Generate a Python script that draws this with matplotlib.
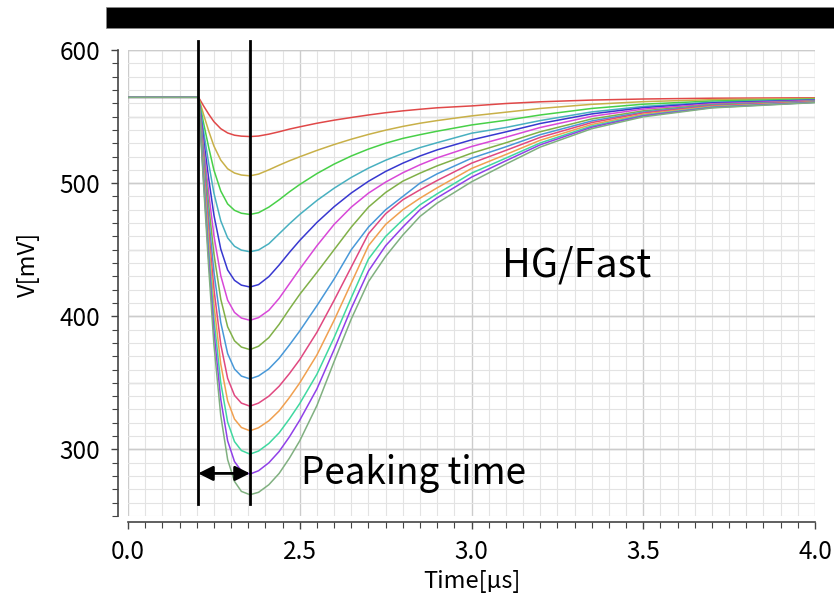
import numpy as np
import matplotlib
matplotlib.use("Agg")
import matplotlib.pyplot as plt
from matplotlib.ticker import MultipleLocator, FixedLocator

plt.rcParams['font.family'] = ['Noto Sans CJK JP', 'DejaVu Sans']

# time axis [us]
t = [2.0, 2.205, 2.21, 2.22, 2.235, 2.25, 2.27, 2.29, 2.31, 2.33,
     2.355, 2.38, 2.41, 2.44, 2.47, 2.5, 2.55, 2.6, 2.65, 2.7, 2.75, 2.8, 2.85, 2.9, 3.0,
     3.1, 3.2, 3.35, 3.5, 3.7, 4.0]

# output voltage [mV], one list per input level
v_red = [564.5, 564.5, 562.4, 558.0, 551.8, 546.2, 540.9, 537.7, 536.0, 535.3,
         535.0, 535.4, 536.8, 538.6, 540.6, 542.3, 545.0, 547.3, 549.3, 551.2, 552.9, 554.3, 555.5, 556.6, 558.0,
         559.8, 561.1, 562.4, 563.2, 563.8, 564.1]
v_olive = [564.5, 564.5, 560.4, 551.5, 539.1, 527.9, 517.3, 510.8, 507.6, 506.1,
           505.5, 506.8, 510.0, 513.5, 516.8, 519.8, 524.6, 529.0, 533.0, 536.6, 539.8, 542.6, 545.0, 547.0, 550.5,
           553.3, 556.1, 559.2, 561.2, 562.7, 563.6]
v_green = [564.5, 564.5, 558.3, 545.1, 526.7, 509.9, 494.1, 484.4, 479.6, 477.4,
           476.5, 477.8, 482.0, 487.5, 493.5, 499.0, 507.2, 514.3, 520.4, 525.6, 530.0, 533.6, 536.4, 539.0, 543.7,
           547.2, 551.2, 556.1, 559.3, 561.7, 563.1]
v_teal = [564.5, 564.5, 556.4, 539.0, 514.6, 492.6, 471.7, 458.9, 452.6, 449.7,
          448.5, 449.8, 454.5, 462.0, 469.5, 476.5, 487.0, 496.2, 504.3, 511.3, 517.2, 522.3, 526.7, 530.4, 537.5,
          541.8, 547.0, 553.5, 557.6, 560.8, 562.6]
v_blue = [564.5, 564.5, 554.5, 533.1, 503.2, 476.1, 450.5, 434.8, 427.0, 423.4,
          422.0, 423.8, 429.8, 438.5, 448.0, 457.0, 470.5, 482.3, 492.6, 501.4, 508.8, 515.0, 520.4, 525.0, 532.5,
          538.5, 544.8, 552.0, 556.7, 560.3, 562.4]
v_magenta = [564.5, 564.5, 552.8, 527.6, 492.5, 460.6, 430.5, 412.1, 402.9, 398.7,
             397.0, 399.0, 404.5, 413.5, 424.5, 435.5, 453.0, 469.0, 482.0, 492.5, 500.8, 507.8, 513.8, 519.0, 527.5,
             534.5, 541.8, 550.2, 555.6, 559.6, 562.1]
v_olivegreen = [564.5, 564.5, 551.2, 522.8, 483.0, 447.0, 412.9, 392.1, 381.6, 376.9,
                375.0, 377.5, 384.0, 394.0, 405.5, 416.5, 433.0, 450.0, 467.0, 482.0, 493.0, 501.5, 507.5, 513.0, 522.5,
                530.3, 538.6, 548.2, 554.3, 559.0, 561.7]
v_steel = [564.5, 564.5, 549.7, 518.0, 473.6, 433.4, 395.3, 372.0, 360.4, 355.1,
           353.0, 355.2, 360.5, 368.5, 378.5, 389.0, 408.0, 428.0, 450.0, 467.0, 480.0, 490.0, 500.0, 507.0, 518.7,
           527.3, 536.4, 546.7, 553.4, 558.5, 561.5]
v_crimson = [564.5, 564.5, 548.3, 513.5, 464.7, 420.7, 378.9, 353.4, 340.6, 334.8,
             332.5, 334.8, 340.0, 347.5, 357.0, 367.5, 388.0, 412.0, 437.0, 462.0, 477.0, 487.5, 495.0, 502.0, 515.0,
             524.6, 534.4, 545.5, 552.7, 558.1, 561.3]
v_orange = [564.5, 564.5, 547.0, 509.4, 456.8, 409.2, 364.1, 336.5, 322.8, 316.5,
            314.0, 316.3, 321.5, 329.0, 339.0, 350.0, 371.0, 397.0, 425.0, 453.0, 469.0, 480.0, 488.7, 496.5, 511.0,
            521.5, 532.2, 544.1, 551.8, 557.6, 561.0]
v_tealgreen = [564.5, 564.5, 545.7, 505.5, 449.3, 398.3, 350.1, 320.6, 305.9, 299.2,
               296.5, 298.8, 304.5, 312.5, 323.0, 334.5, 356.5, 384.0, 414.0, 443.0, 460.0, 472.5, 483.7, 492.0, 507.5,
               518.8, 530.2, 542.9, 551.0, 557.2, 560.8]
v_purple = [564.5, 564.5, 544.7, 502.1, 442.6, 388.7, 337.7, 306.5, 290.9, 283.8,
            281.5, 284.0, 290.0, 298.5, 309.5, 322.0, 345.5, 375.0, 406.0, 434.0, 453.0, 467.0, 480.0, 489.0, 504.5,
            516.8, 528.8, 542.0, 550.5, 556.8, 560.7]
v_graygreen = [564.5, 564.5, 543.6, 498.7, 435.9, 379.1, 325.3, 292.4, 276.0, 268.5,
               266.0, 267.8, 273.5, 282.0, 293.5, 306.5, 333.0, 366.0, 398.0, 426.0, 445.0, 461.0, 475.0, 485.0, 501.0,
               514.3, 527.1, 540.9, 549.8, 556.5, 560.5]

curves = [v_red, v_olive, v_green, v_teal, v_blue, v_magenta, v_olivegreen,
          v_steel, v_crimson, v_orange, v_tealgreen, v_purple, v_graygreen]
colors = ['#e04848', '#c8b048', '#48d048', '#48b0c0', '#3838d0', '#d848d8', '#80b048',
          '#4898d8', '#e04880', '#f0a050', '#40d8a0', '#9040e8', '#80b080']

x_ticks = [2.0, 2.5, 3.0, 3.5, 4.0]
x_ticklabels = ['0.0', '2.5', '3.0', '3.5', '4.0']
y_ticks = [300, 400, 500, 600]

t_start = 2.204
t_peak = 2.355

fig = plt.figure(figsize=(8.34, 5.96), dpi=100)
ax = fig.add_axes([0.1535, 0.1342, 0.8237, 0.7819])

for v, c in zip(curves, colors):
    ax.plot(t, v, color=c, lw=1.1, solid_joinstyle='round')

ax.set_xlim(2.0, 4.0)
ax.set_ylim(250, 600)

ax.xaxis.set_major_locator(FixedLocator(x_ticks))
ax.set_xticklabels(x_ticklabels)
ax.xaxis.set_minor_locator(MultipleLocator(0.05))
ax.yaxis.set_major_locator(FixedLocator(y_ticks))
ax.yaxis.set_minor_locator(MultipleLocator(10))

ax.grid(which='minor', color='#e3e3e3', lw=0.8)
ax.grid(which='major', color='#cccccc', lw=1.0)
# darker lines every 50 mV
for yv in [300, 350, 400, 450, 500, 550, 600]:
    ax.axhline(yv, color='#cccccc', lw=1.0, zorder=0.5)
ax.set_axisbelow(True)

for s in ['top', 'right']:
    ax.spines[s].set_visible(False)
ax.spines['left'].set_position(('outward', 7))
ax.spines['bottom'].set_position(('outward', 4.5))
for s in ['left', 'bottom']:
    ax.spines[s].set_color('#444444')
    ax.spines[s].set_linewidth(1.2)

ax.tick_params(which='major', length=5, width=1.0, color='#444444', labelsize=17.5, pad=8)
ax.tick_params(which='minor', length=4, width=0.8, color='#444444')
ax.tick_params(axis='x', which='major', pad=7)

ax.set_xlabel('Time[µs]', fontsize=17)
ax.set_ylabel('V[mV]', fontsize=17)
ax.xaxis.set_label_coords(0.5, -0.115)
ax.yaxis.set_label_coords(-0.128, 0.54)

# peaking time markers
for xv in [t_start, t_peak]:
    ax.plot([xv, xv], [259, 607], color='black', lw=2.0, clip_on=False, zorder=5)
ax.annotate('', xy=(t_start, 282), xytext=(t_peak, 282),
            arrowprops=dict(arrowstyle='<|-|>', color='black', lw=2.0,
                            mutation_scale=22, shrinkA=0, shrinkB=0), zorder=6)

ax.text(2.504, 273.7, 'Peaking time', fontsize=26.5, va='baseline', ha='left')
ax.text(3.089, 429.7, 'HG/Fast', fontsize=28.5, va='baseline', ha='left')

# black bar at the top
fig.patches.append(plt.Rectangle((0.127, 0.953), 0.873, 0.0352, transform=fig.transFigure,
                                 facecolor='black', edgecolor='#888888', lw=0.5))

fig.savefig('out.png', dpi=100)
